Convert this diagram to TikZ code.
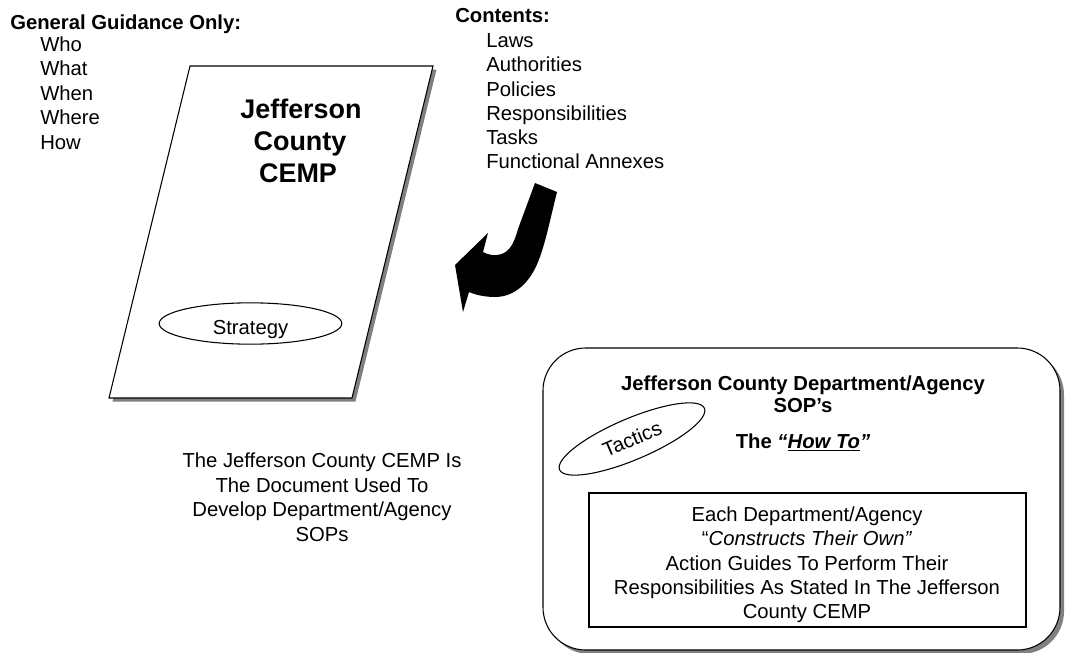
\documentclass[tikz,border=0pt]{standalone}
\usepackage{fontspec}
\setmainfont{Liberation Sans}
\usetikzlibrary{shapes.geometric}
\begin{document}
\begin{tikzpicture}[x=0.75pt,y=-0.75pt,
  body/.style={font=\fontsize{15.2}{18}\selectfont, inner sep=0pt},
  li/.style={body, anchor=base west},
  lib/.style={body, font=\fontsize{15.2}{18}\selectfont\bfseries, anchor=base west},
  ctr/.style={body, anchor=base},
  ctrb/.style={body, font=\fontsize{15.2}{18}\selectfont\bfseries, anchor=base},
  ttl/.style={font=\fontsize{20.2}{24}\selectfont\bfseries, inner sep=0pt, anchor=base},
  shade/.style={fill=black!50, draw=none},
  outline/.style={draw=black, line width=0.8pt, fill=white},
  oval/.style={body, draw=black, line width=0.8pt, ellipse, inner sep=0pt}]
\useasboundingbox (0,0) rectangle (1065,653);

% ---- left list
\node[lib] (gh) at (10,30) {General Guidance Only:};
\node[li] (g1) at (40,51) {Who};
\node[li] (g2) at (40,75.5) {What};
\node[li] (g3) at (40,100) {When};
\node[li] (g4) at (40,124.5) {Where};
\node[li] (g5) at (40,149) {How};

% ---- contents list
\node[lib] (ch) at (455,22) {Contents:};
\node[li] (c1) at (486,47) {Laws};
\node[li] (c2) at (486,71.5) {Authorities};
\node[li] (c3) at (486,96) {Policies};
\node[li] (c4) at (486,120) {Responsibilities};
\node[li] (c5) at (486,144) {Tasks};
\node[li] (c6) at (486,168) {Functional Annexes};

% ---- CEMP document (parallelogram)
\fill[shade] (193.5,69.5) -- (436.5,69.5) -- (355.5,401.5) -- (112.5,401.5) -- cycle;
\draw[outline] (190,66) -- (433,66) -- (352,398) -- (109,398) -- cycle;
\node[ttl] (t1) at (301,118) {Jefferson};
\node[ttl] (t2) at (300,150) {County};
\node[ttl] (t3) at (298,182) {CEMP};
\node[oval, minimum width=137pt, minimum height=31pt,
      text height=16pt, text depth=0pt] (strat) at (250.5,323.5) {Strategy};

% ---- curved arrow
\fill[black] (535,183) -- (557,192)
  .. controls (550,220) and (545,245) .. (538,262)
  .. controls (530,282) and (515,297) .. (495,297)
  .. controls (485,297) and (476,295) .. (469,292)
  -- (463,312) -- (455,265) -- (488,233) -- (483,252)
  .. controls (492,257) and (503,256) .. (509,249)
  .. controls (514,243) and (516,236) .. (518,229)
  -- cycle;

% ---- bottom-left statement
\node[ctr] (s1) at (322,467) {The Jefferson County CEMP Is};
\node[ctr] (s2) at (322,492) {The Document Used To};
\node[ctr] (s3) at (322,516.5) {Develop Department/Agency};
\node[ctr] (s4) at (322,541) {SOPs};

% ---- SOP box
\fill[shade, rounded corners=32pt] (547,352) rectangle (1064,654);
\draw[outline, rounded corners=32pt] (543,348) rectangle (1060,650);
\node[ctrb] (h1) at (803,390) {Jefferson County Department/Agency};
\node[ctrb] (h2) at (803,412) {SOP’s};
\node[ctrb] (h3) at (803,448) {The \textit{“\underline{How To}”}};
\node[oval, rotate=23, minimum width=118pt, minimum height=31pt] (tact) at (632,439) {Tactics};
\draw[line width=0.8pt] (589,493) rectangle (1026,627);
\node[ctr] (b1) at (807,521) {Each Department/Agency};
\node[ctr] (b2) at (807,545) {“\textit{Constructs Their Own”}};
\node[ctr] (b3) at (807,570) {Action Guides To Perform Their};
\node[ctr] (b4) at (807,594) {Responsibilities As Stated In The Jefferson};
\node[ctr] (b5) at (807,618) {County CEMP};
\end{tikzpicture}
\end{document}
